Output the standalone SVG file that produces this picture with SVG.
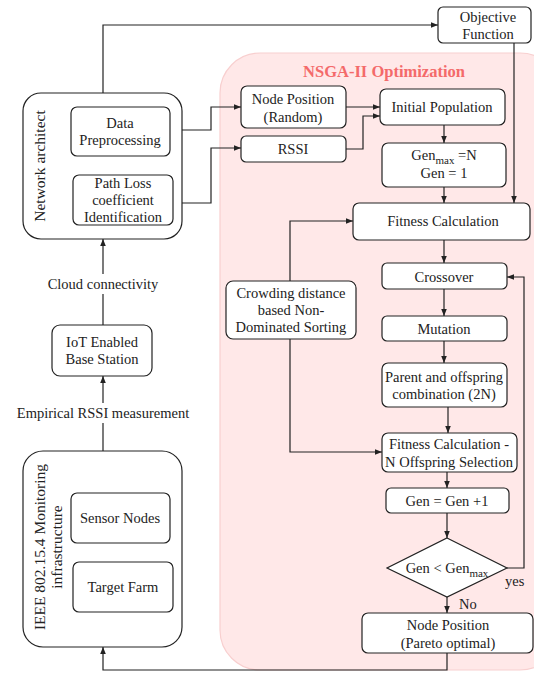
<svg xmlns="http://www.w3.org/2000/svg" width="534" height="674" viewBox="0 0 534 674">
<defs>
<marker id="ah" viewBox="0 0 10 10" refX="10" refY="5" markerWidth="7" markerHeight="7" markerUnits="userSpaceOnUse" orient="auto">
<path d="M0,1 L10,5 L0,9 Z" fill="#222"/>
</marker>
<style>
.b{fill:#fff;stroke:#222;stroke-width:1.2}
.t{font-family:"Liberation Serif","Times New Roman",serif;font-size:14.5px;fill:#222;text-anchor:middle}
.r{font-size:15.5px}
.c{fill:none;stroke:#222;stroke-width:1.2}
.a{marker-end:url(#ah)}
</style>
</defs>
<rect width="534" height="674" fill="#fff"/>
<g id="nsga">
<rect x="220" y="53" width="340" height="617" rx="40" fill="#FFE8E8" stroke="#F8CFCF" stroke-width="1.2"/>
<text x="384" y="77" style="font-family:'Liberation Serif','Times New Roman',serif;font-size:16.5px;font-weight:bold;fill:#F46A6A;text-anchor:middle">NSGA-II Optimization</text>
</g>
<g id="connectors">
<path class="c a" d="M103,93 V25 H438"/>
<path class="c a" d="M182,130 H211 V107 H241"/>
<path class="c a" d="M182,203 H211 V148 H241"/>
<path class="c a" d="M346,107 H380"/>
<path class="c a" d="M346,149 H363 V116 H380"/>
<path class="c a" d="M444,125 V143"/>
<path class="c a" d="M444,187 V203"/>
<path class="c a" d="M514,43 V203"/>
<path class="c a" d="M444,240 V263"/>
<path class="c a" d="M444,289 V316"/>
<path class="c a" d="M444,341 V363"/>
<path class="c a" d="M448,407 V433"/>
<path class="c a" d="M447,472 V488"/>
<path class="c a" d="M447,513 V538"/>
<path class="c a" d="M447,597 V613"/>
<path class="c a" d="M507,568 H524 V277 H507"/>
<path class="c a" d="M290,281 V221 H353"/>
<path class="c a" d="M290,339 V452 H382"/>
<path class="c a" d="M447,653 V670 H103 V647"/>
<path class="c a" d="M103,451 V376"/>
<path class="c a" d="M103,325 V239"/>
<rect x="44" y="274" width="118" height="20" fill="#fff"/>
<text class="t" x="103" y="289">Cloud connectivity</text>
<rect x="12" y="403" width="182" height="20" fill="#fff"/>
<text class="t" x="103" y="418">Empirical RSSI measurement</text>
<text class="t" x="505" y="586" style="text-anchor:start">yes</text>
<text class="t" x="459" y="609" style="text-anchor:start">No</text>
</g>
<g id="netarch">
<rect class="b" x="23" y="93" width="159" height="146" rx="18"/>
<text class="t r" transform="translate(45,166) rotate(-90)">Network architect</text>
</g>
<g id="dataprep">
<rect class="b" x="71" y="107" width="99" height="49" rx="6"/>
<text class="t" x="120" y="128">Data</text>
<text class="t" x="120" y="145">Preprocessing</text>
</g>
<g id="pathloss">
<rect class="b" x="73" y="175" width="100" height="50" rx="6"/>
<text class="t" x="123" y="188">Path Loss</text>
<text class="t" x="123" y="205">coefficient</text>
<text class="t" x="123" y="222">Identification</text>
</g>
<g id="basestation">
<rect class="b" x="52" y="325" width="100" height="51" rx="8"/>
<text class="t" x="102" y="347">IoT Enabled</text>
<text class="t" x="102" y="364">Base Station</text>
</g>
<g id="ieee">
<rect class="b" x="23" y="451" width="159" height="196" rx="20"/>
<text class="t r" transform="translate(45,547) rotate(-90)">IEEE 802.15.4 Monitoring</text>
<text class="t r" transform="translate(62,547) rotate(-90)">infrastructure</text>
</g>
<g id="sensor">
<rect class="b" x="71" y="493" width="99" height="50" rx="6"/>
<text class="t" x="120" y="523">Sensor Nodes</text>
</g>
<g id="farm">
<rect class="b" x="73" y="562" width="100" height="50" rx="6"/>
<text class="t" x="123" y="592">Target Farm</text>
</g>
<g id="objective">
<rect class="b" x="438" y="7" width="93" height="36" rx="5"/>
<text class="t" x="488" y="22">Objective</text>
<text class="t" x="488" y="39">Function</text>
</g>
<g id="nodepos">
<rect class="b" x="241" y="86" width="105" height="42" rx="6"/>
<text class="t" x="293" y="104">Node Position</text>
<text class="t" x="293" y="122">(Random)</text>
</g>
<g id="rssi">
<rect class="b" x="241" y="136" width="105" height="26" rx="5"/>
<text class="t" x="293" y="154">RSSI</text>
</g>
<g id="initpop">
<rect class="b" x="380" y="89" width="125" height="36" rx="6"/>
<text class="t" x="442" y="112">Initial Population</text>
</g>
<g id="genbox">
<rect class="b" x="382" y="143" width="124" height="44" rx="6"/>
<text class="t" x="444" y="160">Gen<tspan dy="4" font-size="11px">max</tspan><tspan dy="-4"> =N</tspan></text>
<text class="t" x="444" y="178">Gen = 1</text>
</g>
<g id="fitness">
<rect class="b" x="353" y="203" width="177" height="37" rx="6"/>
<text class="t" x="443" y="226">Fitness Calculation</text>
</g>
<g id="crowding">
<rect class="b" x="226" y="281" width="130" height="58" rx="7"/>
<text class="t" x="291" y="298">Crowding distance</text>
<text class="t" x="291" y="315">based Non-</text>
<text class="t" x="291" y="332">Dominated Sorting</text>
</g>
<g id="crossover">
<rect class="b" x="382" y="263" width="125" height="26" rx="5"/>
<text class="t" x="444" y="282">Crossover</text>
</g>
<g id="mutation">
<rect class="b" x="382" y="316" width="125" height="25" rx="5"/>
<text class="t" x="444" y="334">Mutation</text>
</g>
<g id="parent">
<rect class="b" x="382" y="363" width="125" height="44" rx="6"/>
<text class="t" x="444" y="382">Parent and offspring</text>
<text class="t" x="444" y="399">combination (2N)</text>
</g>
<g id="fitnessn">
<rect class="b" x="382" y="433" width="135" height="39" rx="6"/>
<text class="t" x="449" y="449">Fitness Calculation -</text>
<text class="t" x="449" y="467">N Offspring Selection</text>
</g>
<g id="genplus">
<rect class="b" x="386" y="488" width="123" height="25" rx="5"/>
<text class="t" x="447" y="506">Gen = Gen +1</text>
</g>
<g id="decision">
<polygon class="b" points="447,538 507,568 447,597 387,568"/>
<text class="t" x="447" y="573">Gen &lt; Gen<tspan dy="4" font-size="11px">max</tspan></text>
</g>
<g id="pareto">
<rect class="b" x="362" y="613" width="171" height="40" rx="6"/>
<text class="t" x="448" y="630">Node Position</text>
<text class="t" x="448" y="648">(Pareto optimal)</text>
</g>
</svg>
